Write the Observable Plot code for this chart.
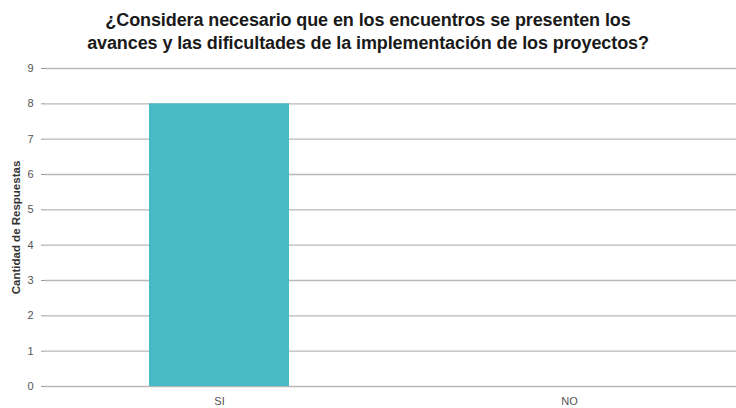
<!DOCTYPE html>
<html>
<head>
<meta charset="utf-8">
<script src="https://cdn.jsdelivr.net/npm/d3@7"></script>
<script src="https://cdn.jsdelivr.net/npm/@observablehq/plot@0.6"></script>
<style>
  html, body { margin: 0; padding: 0; background: #fff; }
  #title { width: 736px; height: 58px; box-sizing: border-box; padding-top: 9px; text-align: center;
    font-family: "Liberation Sans", Arial, sans-serif; font-weight: bold; font-size: 18px; line-height: 23px; color: #1a1a1a; letter-spacing: -0.1px; }
</style>
</head>
<body>
<div id="title">¿Considera necesario que en los encuentros se presenten los<br>avances y las dificultades de la implementación de los proyectos?</div>
<div id="chart"></div>
<script>
const categories = ["SI", "NO"];
const values = [8, 0];
const yTicks = [0, 1, 2, 3, 4, 5, 6, 7, 8, 9];
const yLabel = "Cantidad de Respuestas";

const data = categories.map((c, i) => ({category: c, value: values[i]}));

const chart = Plot.plot({
  width: 736,
  height: 350,
  marginTop: 10,
  marginBottom: 22,
  marginLeft: 45,
  marginRight: 0,
  style: {fontFamily: "Liberation Sans, Arial, sans-serif", fontSize: "11px", color: "#555"},
  x: {domain: categories, range: [44, 744], paddingInner: 0.6, paddingOuter: 0.3, label: null},
  y: {domain: [0, 9], ticks: yTicks, label: null},
  marks: [
    Plot.gridY(yTicks, {stroke: "#b8b8b8", strokeOpacity: 1, strokeWidth: 1.3}),
    Plot.barY(data, {x: "category", y: "value", fill: "#47bbc5"}),
    Plot.axisY({ticks: yTicks, tickSize: 4, tickPadding: 8, stroke: "#999", label: null, fontSize: 11}),
    Plot.ruleX([0], {x: () => 45, stroke: "#999"}),
    Plot.axisX({tickSize: 0, tickPadding: 11, label: null, fontSize: 11}),
    Plot.text([yLabel], {frameAnchor: "left", textAnchor: "middle", dx: -29, rotate: -90, text: d => d, fontWeight: "bold", fontSize: 11.5, fill: "#333", letterSpacing: 0.4})
  ]
});
document.getElementById("chart").appendChild(chart);
</script>
</body>
</html>
